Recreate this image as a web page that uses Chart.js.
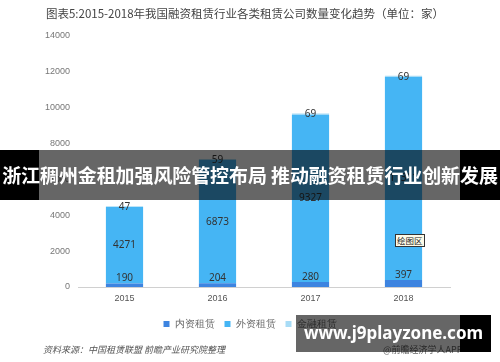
<!DOCTYPE html>
<html>
<head>
<meta charset="utf-8">
<script src="https://cdn.jsdelivr.net/npm/chart.js@4"></script>
<style>
    html, body { margin: 0; padding: 0; background: #fff; }
    body { width: 500px; height: 362px; position: relative; overflow: hidden;
           font-family: "Noto Sans CJK SC", "Noto Sans", sans-serif; }
    #wrap { position: absolute; left: 0; top: 0; width: 500px; height: 362px; }
    .title { position: absolute; left: 0; width: 490px; top: 5px; text-align: center;
             font-size: 11.5px; color: #444; }
    .source { position: absolute; left: 43px; top: 343px; font-size: 9px; color: #555;
              font-style: italic; }
    .app { position: absolute; left: 383px; top: 343px; font-size: 9px; color: #666; }
    .banner { position: absolute; left: 0; top: 150px; width: 500px; height: 50px;
              background: linear-gradient(to right, #000 0 39px, rgba(0,0,0,0.6) 39px 460px, #000 460px);
              color: #fff; font-weight: bold; font-size: 19px; line-height: 50px;
              text-align: center; white-space: nowrap; letter-spacing: -0.1px; }
    .site { position: absolute; left: 296px; top: 315px; width: 195px; height: 37px;
            background: linear-gradient(to right, rgba(0,0,0,0.6) 0 164px, #000 164px);
            color: #fff; font-family: "Noto Sans", sans-serif; font-weight: bold;
            font-size: 17px; line-height: 35px; text-align: center; }
    .plotTag { position: absolute; left: 395px; top: 234px; font-size: 8.5px; color: #222;
               background: #fffbe8; border: 1px solid #333; padding: 0 1px; line-height: 11px; }
</style>
</head>
<body>
<div id="wrap"><canvas id="barChart" width="500" height="362"></canvas></div>
<div class="title">图表5:2015-2018年我国融资租赁行业各类租赁公司数量变化趋势（单位：家）</div>
<div class="plotTag">绘图区</div>
<div class="source">资料来源：中国租赁联盟 前瞻产业研究院整理</div>
<div class="app">@前瞻经济学人APP</div>
<div class="banner">浙江稠州金租加强风险管控布局 推动融资租赁行业创新发展</div>
<div class="site">www.j9playzone.com</div>
<script>
// данные графика
const years = ['2015', '2016', '2017', '2018'];
const domestic = [190, 204, 280, 397];      // 内资租赁
const foreign = [4271, 6873, 9327, 11311];  // 外资租赁
const financial = [47, 59, 69, 69];         // 金融租赁
const yTicks = [0, 2000, 4000, 6000, 8000, 10000, 12000, 14000];

/**
 * Подписи значений на сегментах
 */
const valueLabels = {
    id: 'valueLabels',
    afterDatasetsDraw(chart) {
        const ctx = chart.ctx;
        ctx.save();
        ctx.font = '10px "Noto Sans", sans-serif';
        ctx.fillStyle = '#333';
        ctx.textAlign = 'center';
        ctx.textBaseline = 'middle';
        chart.data.datasets.forEach((ds, i) => {
            chart.getDatasetMeta(i).data.forEach((bar, j) => {
                const p = bar.getProps(['x', 'y', 'base'], true);
                let y;
                if (i === 0) y = p.y - 5;
                else if (i === 1) y = (p.y + p.base) / 2;
                else y = p.y + 1;
                ctx.fillText(String(ds.data[j]), p.x, y);
            });
        });
        ctx.restore();
    }
};

new Chart(document.getElementById('barChart'), {
    type: 'bar',
    data: {
        labels: years,
        datasets: [
            { label: '内资租赁', data: domestic, backgroundColor: '#3d84e0' },
            { label: '外资租赁', data: foreign, backgroundColor: '#45b5f4' },
            { label: '金融租赁', data: financial, backgroundColor: '#a8dcf6' }
        ]
    },
    options: {
        responsive: false,
        animation: false,
        barPercentage: 0.8,
        categoryPercentage: 0.5,
        layout: { padding: { left: 29, right: 29, top: 36, bottom: 23 } },
        scales: {
            x: {
                stacked: true,
                grid: { display: false, drawTicks: false },
                border: { color: '#d0d0d0' },
                ticks: { color: '#555', font: { size: 9 }, padding: 6 },
                afterFit: s => { s.height = 22; }
            },
            y: {
                stacked: true,
                min: 0,
                max: 14000,
                afterBuildTicks: s => { s.ticks = yTicks.map(v => ({ value: v })); },
                grid: { display: false, drawTicks: false },
                border: { display: false },
                ticks: { color: '#777', font: { size: 9 }, padding: 8, callback: v => String(v) },
                afterFit: s => { s.width = 49; }
            },
            // пустая ось справа, чтобы легенда встала по центру
            yRight: {
                position: 'right',
                grid: { display: false, drawTicks: false },
                border: { display: false },
                ticks: { display: false },
                afterFit: s => { s.width = 21; }
            }
        },
        plugins: {
            legend: {
                position: 'bottom',
                labels: { boxWidth: 6, boxHeight: 6, color: '#666', font: { size: 10 }, padding: 10 }
            },
            tooltip: { enabled: false }
        }
    },
    plugins: [valueLabels]
});
</script>
</body>
</html>
